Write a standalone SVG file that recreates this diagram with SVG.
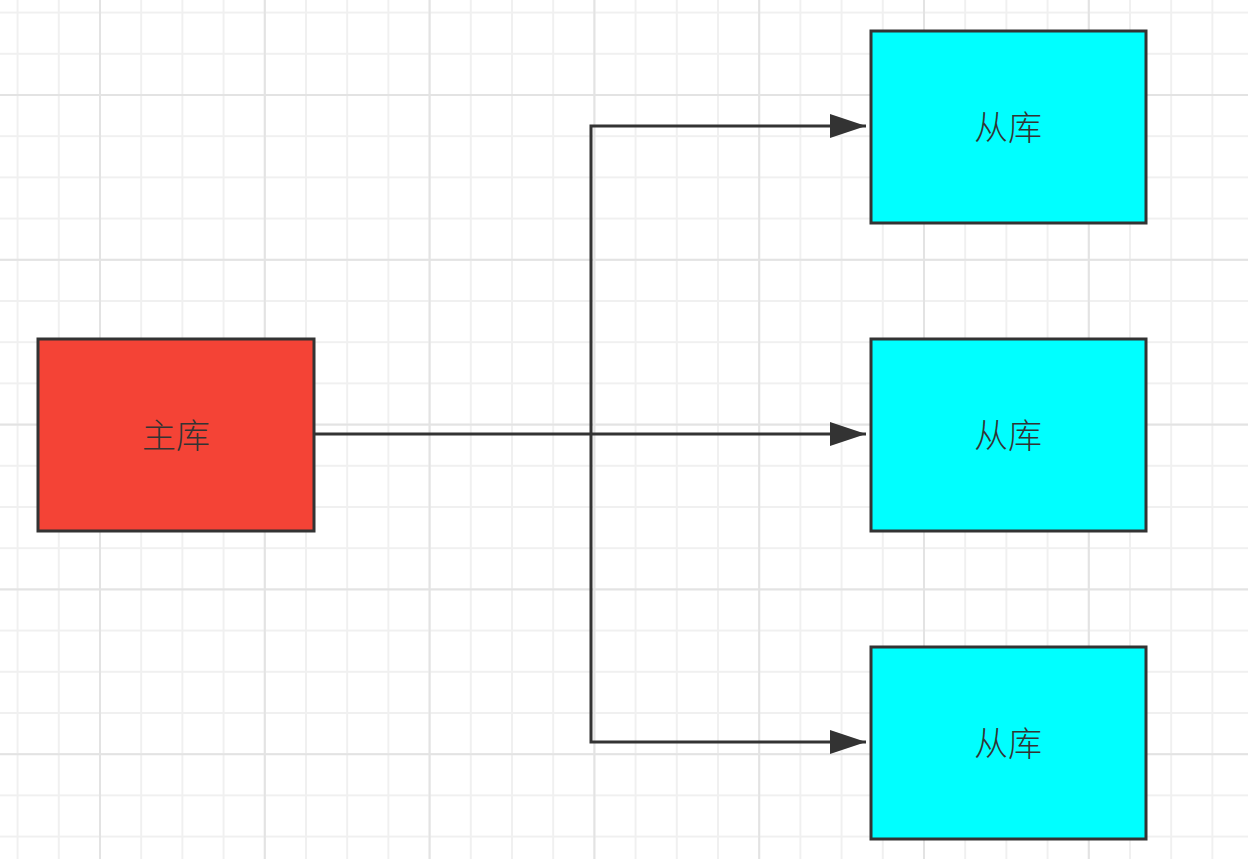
<svg xmlns="http://www.w3.org/2000/svg" width="1248" height="859" viewBox="0 0 1248 859">
<defs>
<pattern id="minor" x="16.6" y="11.6" width="41.2" height="41.2" patternUnits="userSpaceOnUse">
<path d="M0 1H41.2M1 0V41.2" fill="none" stroke="#f0f0f0" stroke-width="2"/>
</pattern>
<pattern id="major" x="99" y="94" width="164.8" height="164.8" patternUnits="userSpaceOnUse">
<path d="M0 1H164.8M1 0V164.8" fill="none" stroke="#e3e3e3" stroke-width="2"/>
</pattern>
<marker id="arr" markerWidth="12" markerHeight="8" refX="12" refY="4" orient="auto" markerUnits="strokeWidth">
<path d="M0 0L12 4L0 8Z" fill="#333"/>
</marker>
<style>
.node{stroke:#333;stroke-width:3}
.lbl{font-family:"Noto Sans CJK SC","Noto Sans",sans-serif;font-size:34px;font-weight:300;fill:#333;text-anchor:middle;dominant-baseline:central}
.edge{fill:none;stroke:#333;stroke-width:3}
</style>
</defs>
<rect width="1248" height="859" fill="#fff"/>
<rect width="1248" height="859" fill="url(#minor)"/>
<rect width="1248" height="859" fill="url(#major)"/>
<g id="connectors">
<path class="edge" d="M314 434H866" marker-end="url(#arr)"/>
<path class="edge" d="M591 434V126H866" marker-end="url(#arr)"/>
<path class="edge" d="M591 434V742H866" marker-end="url(#arr)"/>
</g>
<g id="master">
<rect class="node" x="38" y="339" width="276" height="192" fill="#f44336"/>
<text class="lbl" x="176" y="433">主库</text>
</g>
<g id="slave1">
<rect class="node" x="871" y="31" width="275" height="192" fill="#00ffff"/>
<text class="lbl" x="1008" y="125">从库</text>
</g>
<g id="slave2">
<rect class="node" x="871" y="339" width="275" height="192" fill="#00ffff"/>
<text class="lbl" x="1008" y="433">从库</text>
</g>
<g id="slave3">
<rect class="node" x="871" y="647" width="275" height="192" fill="#00ffff"/>
<text class="lbl" x="1008" y="741">从库</text>
</g>
</svg>
